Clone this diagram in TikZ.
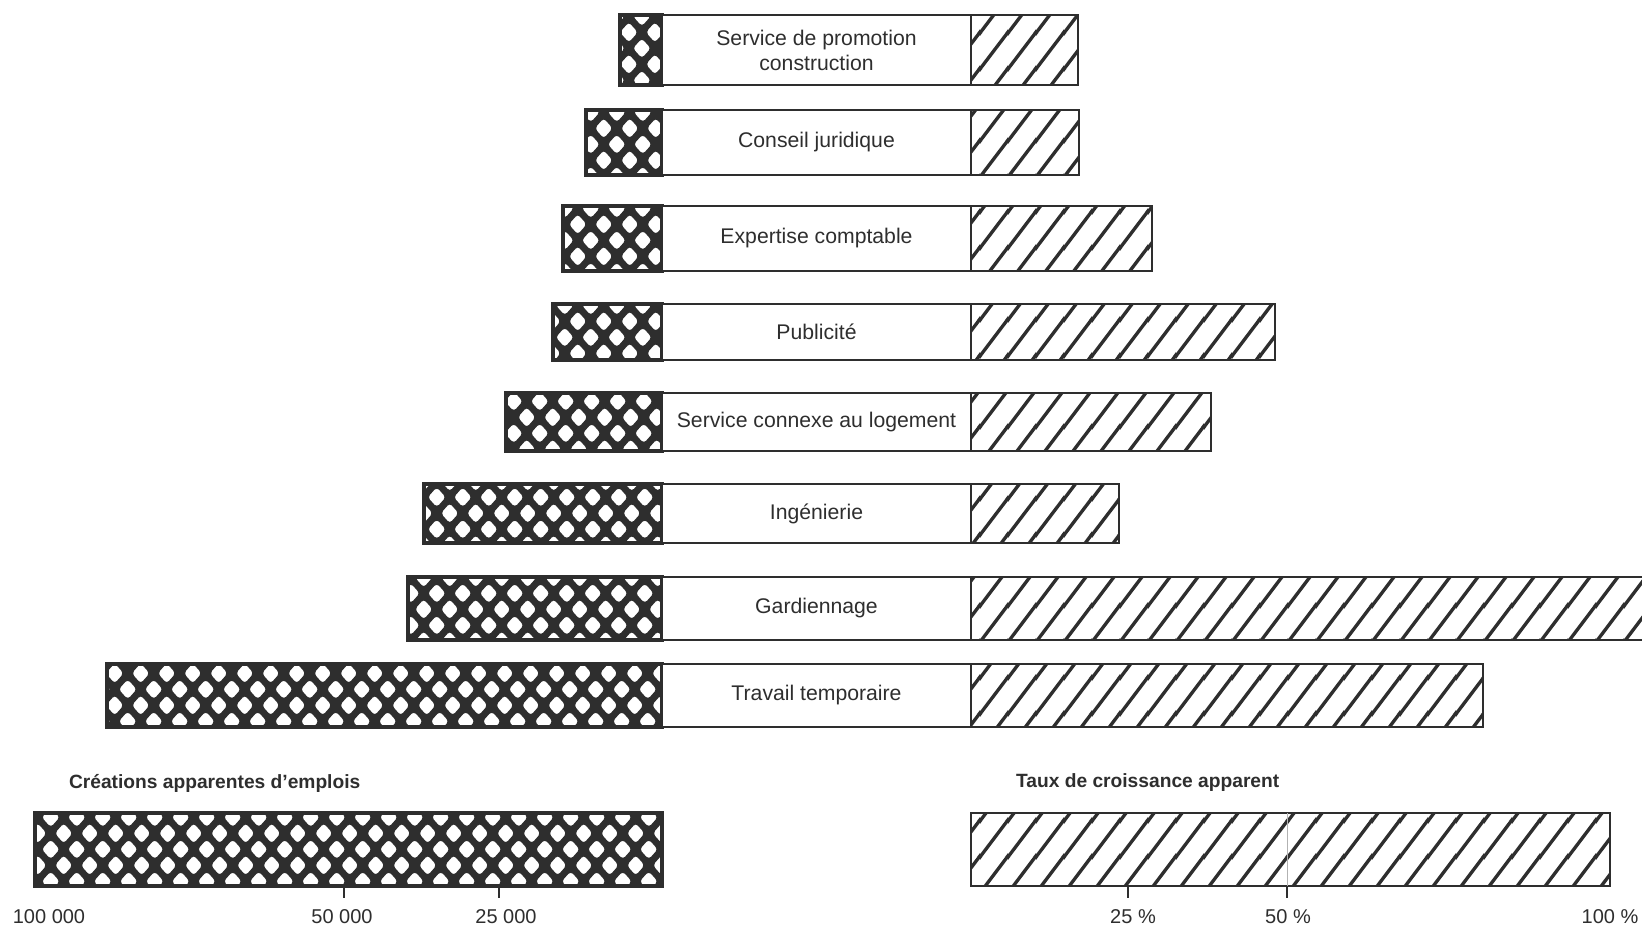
\documentclass[tikz,border=0pt]{standalone}
\usepackage{fontspec}
\setmainfont{Liberation Sans}
\usetikzlibrary{patterns}

% one rounded diamond hole of the lattice, centred at (#1,#2)
\newcommand\jobhole[2]{%
  \pgfpathmoveto{\pgfpointadd{\pgfqpoint{#1}{#2}}{\pgfqpoint{-2.2pt}{-2.5pt}}}%
  \pgfpathlineto{\pgfpointadd{\pgfqpoint{#1}{#2}}{\pgfqpoint{0pt}{-5pt}}}%
  \pgfpathlineto{\pgfpointadd{\pgfqpoint{#1}{#2}}{\pgfqpoint{4.4pt}{0pt}}}%
  \pgfpathlineto{\pgfpointadd{\pgfqpoint{#1}{#2}}{\pgfqpoint{0pt}{5pt}}}%
  \pgfpathlineto{\pgfpointadd{\pgfqpoint{#1}{#2}}{\pgfqpoint{-4.4pt}{0pt}}}%
  \pgfpathclose}

% dark lattice with white holes for the jobs side
\pgfdeclarepatternformonly{lattice}{\pgfpointorigin}{\pgfqpoint{12.85pt}{16pt}}{\pgfqpoint{12.85pt}{16pt}}{%
  \pgfpathrectangle{\pgfqpoint{-1pt}{-1pt}}{\pgfqpoint{14.85pt}{18pt}}
  \pgfsetcornersarced{\pgfqpoint{1.6pt}{1.6pt}}
  \jobhole{0pt}{8pt}
  \jobhole{12.85pt}{8pt}
  \jobhole{6.425pt}{0pt}
  \jobhole{6.425pt}{16pt}
  \pgfseteorule
  \pgfusepath{fill}}

% single slant lines for the growth side
\pgfdeclarepatternformonly{slant}{\pgfpointorigin}{\pgfqpoint{14pt}{17.9pt}}{\pgfqpoint{14pt}{17.9pt}}{%
  \pgfsetlinewidth{1.7pt}
  \pgfpathmoveto{\pgfqpoint{-28pt}{-17.9pt}}\pgfpathlineto{\pgfqpoint{14pt}{35.8pt}}
  \pgfpathmoveto{\pgfqpoint{-14pt}{-17.9pt}}\pgfpathlineto{\pgfqpoint{28pt}{35.8pt}}
  \pgfpathmoveto{\pgfqpoint{0pt}{-17.9pt}}\pgfpathlineto{\pgfqpoint{42pt}{35.8pt}}
  \pgfusepath{stroke}}

\definecolor{ink}{gray}{0.18}

\tikzset{
  jobs/.style={draw=ink, line width=1.6pt, pattern=lattice, pattern color=ink},
  growth/.style={draw=ink, line width=1.3pt, pattern=slant, pattern color=ink},
  namebox/.style={draw=ink, line width=1pt, fill=white},
  lbl/.style={font=\fontsize{10.6}{12.5}\selectfont, text=ink, align=center},
  legendtitle/.style={font=\fontsize{9.6}{11}\selectfont\bfseries, text=ink, anchor=west},
  axislbl/.style={font=\fontsize{10}{12}\selectfont, text=ink},
  tickmark/.style={draw=ink, line width=1pt}
}

\begin{document}
\begin{tikzpicture}[x=0.5pt, y=-0.5pt]
\useasboundingbox[fill=white] (0,0) rectangle (1642,928);

% one row per sector: top/bottom/jobs end/growth end/name
\foreach \n/\t/\b/\l/\r/\txt in {
  1/15/85/620/1078/{Service de promotion\\construction},
  2/110/175/586/1079/{Conseil juridique},
  3/206/271/563/1152/{Expertise comptable},
  4/304/360/553/1275/{Publicité},
  5/393/451/506/1211/{Service connexe au logement},
  6/484/543/424/1119/{Ingénierie},
  7/577/640/408/1660/{Gardiennage},
  8/664/727/107/1483/{Travail temporaire}}
{
  \draw[jobs] (\l,\t) rectangle (662,\b);
  \draw[namebox] (662,\t) rectangle (971,\b);
  \draw[growth] (971,\t) rectangle (\r,\b);
  \node[lbl] (bar\n) at (816.5,{(\t+\b)/2}) {\txt};
}

% legend bars
\node[legendtitle] (jobstitle) at (62,783) {Créations apparentes d’emplois};
\node[legendtitle] (ratetitle) at (1009,783) {Taux de croissance apparent};
\draw[jobs] (35,813) rectangle (662,886);
\draw[growth] (971,813) rectangle (1610,886);
\draw[gray!60, line width=0.4pt] (1287,813) -- (1287,886);

\foreach \x in {344,499,1128,1287}
  \draw[tickmark] (\x,886) -- (\x,898);

\node[axislbl] (v100) at (49,917) {100 000};
\node[axislbl] (v50) at (342,917) {50 000};
\node[axislbl] (v25) at (506,917) {25 000};
\node[axislbl] (p25) at (1133,917) {25 \%};
\node[axislbl] (p50) at (1288,917) {50 \%};
\node[axislbl] (p100) at (1610,917) {100 \%};
\end{tikzpicture}
\end{document}
